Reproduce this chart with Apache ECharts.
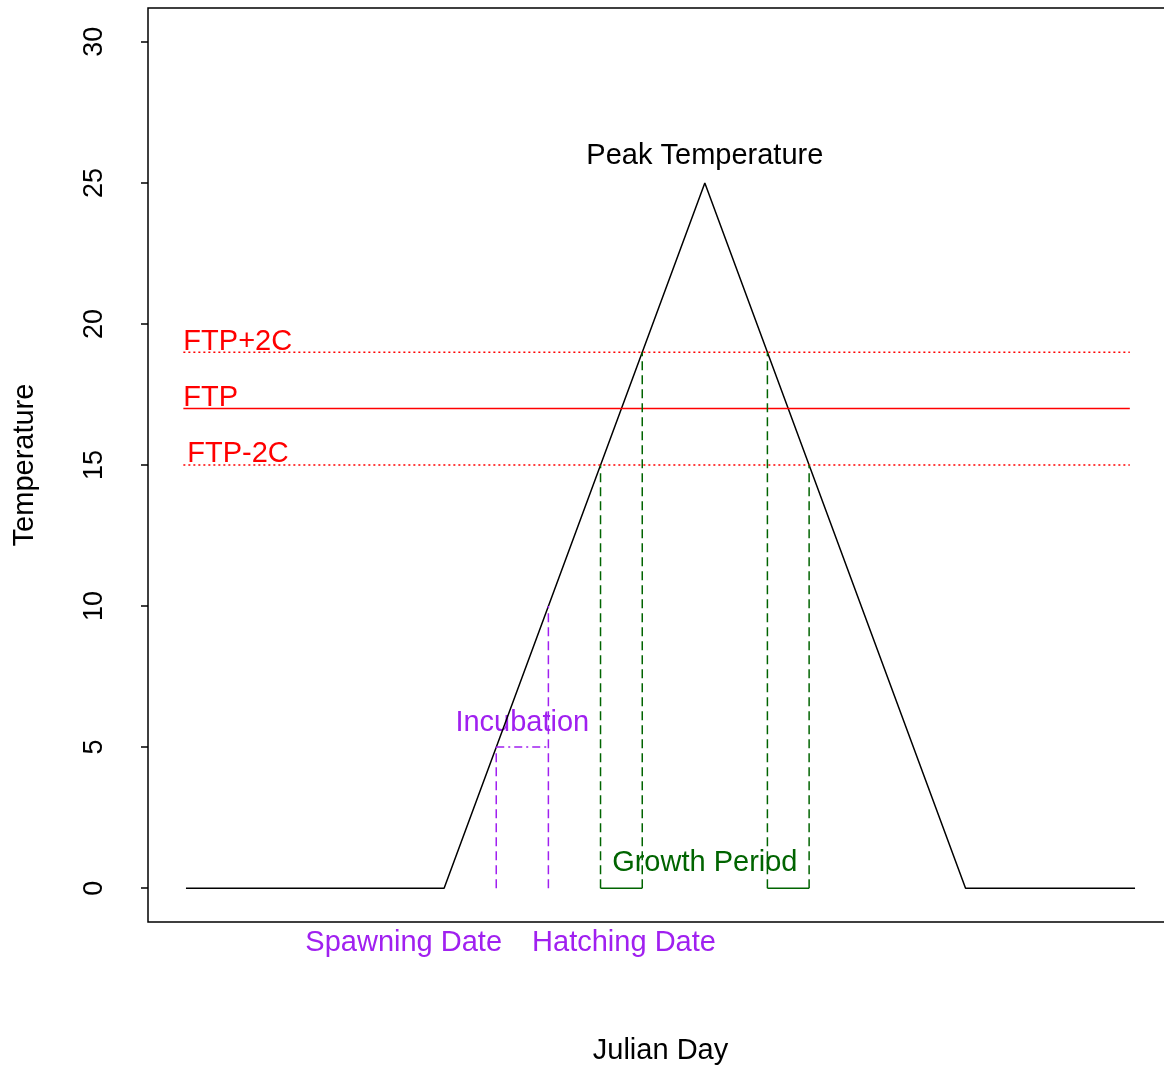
<!DOCTYPE html>
<html><head><meta charset="utf-8">
<script src="https://cdn.jsdelivr.net/npm/echarts@6/dist/echarts.min.js"></script>
<style>html,body{margin:0;padding:0;background:#fff}#c{width:1164px;height:1071px}</style>
</head><body><div id="c"></div>
<script>
// ---- data ----
var dayRange = [1, 365];
var tempCurve = [[1, 0], [100, 0], [200, 25], [300, 0], [365, 0]];
var ftpSpan = [0, 363];
var ftp = 17, ftpPlus = 19, ftpMinus = 15;
var spawnDay = 120, hatchDay = 140;
var spawnTemp = 5, hatchTemp = 10;
var growthDays = [160, 176, 224, 240];
var growthTemps = [15, 19, 19, 15];
var yTicks = [0, 5, 10, 15, 20, 25, 30];
var yRange = [0, 30];
// text annotations: [label, x(day), y(temp), colour, align]
var notes = [
  ['Peak Temperature', 200, 25.95, '#000000', 'center'],
  ['FTP+2C', 0, 19.36, '#FF0000', 'left'],
  ['FTP', 0, 17.38, '#FF0000', 'left'],
  ['FTP-2C', 1.5, 15.4, '#FF0000', 'left'],
  ['Incubation', 130, 5.85, '#A020F0', 'center'],
  ['Growth Period', 200, 0.89, '#006400', 'center'],
  ['Spawning Date', 84.5, -1.96, '#A020F0', 'center'],
  ['Hatching Date', 169, -1.96, '#A020F0', 'center']
];

var FONT = '"Liberation Sans", Arial, sans-serif';
var RED = '#FF0000', PURPLE = '#A020F0', GREEN = '#006400';
var dx = (dayRange[1] - dayRange[0]) * 0.04;
var dy = (yRange[1] - yRange[0]) * 0.04;

function seg(data, color, type, width) {
  return {type: 'line', data: data, showSymbol: false, symbol: 'none', silent: true,
    animation: false, lineStyle: {color: color, type: type, width: width || 1.5}};
}

var series = [
  seg(tempCurve, '#000', 'solid', 1.5),
  seg([[ftpSpan[0], ftp], [ftpSpan[1], ftp]], RED, 'solid', 1.5),
  seg([[ftpSpan[0], ftpPlus], [ftpSpan[1], ftpPlus]], RED, [2, 3], 1.5),
  seg([[ftpSpan[0], ftpMinus], [ftpSpan[1], ftpMinus]], RED, [2, 3], 1.5),
  seg([[spawnDay, 0], [spawnDay, spawnTemp]], PURPLE, [9, 5], 1.5),
  seg([[hatchDay, 0], [hatchDay, hatchTemp]], PURPLE, [9, 5], 1.5),
  seg([[spawnDay, spawnTemp], [hatchDay, spawnTemp]], PURPLE, [8, 4, 2, 4], 1.5)
];
growthDays.forEach(function (d, i) {
  series.push(seg([[d, 0], [d, growthTemps[i]]], GREEN, [9, 5], 1.5));
});
series.push(seg([[growthDays[0], 0], [growthDays[1], 0]], GREEN, 'solid', 1.5));
series.push(seg([[growthDays[2], 0], [growthDays[3], 0]], GREEN, 'solid', 1.5));

var chart = echarts.init(document.getElementById('c'), null, {renderer: 'canvas'});
chart.setOption({
  animation: false,
  backgroundColor: '#fff',
  grid: {left: 148, top: 8, width: 1025, height: 914, outerBoundsMode: 'none', containLabel: false,
    show: true, borderColor: '#000', borderWidth: 1.5, backgroundColor: 'transparent'},
  xAxis: {type: 'value', min: dayRange[0] - dx, max: dayRange[1] + dx,
    axisLine: {show: false, onZero: false}, axisTick: {show: false}, axisLabel: {show: false}, splitLine: {show: false},
    name: 'Julian Day', nameLocation: 'middle', nameGap: 114,
    nameTextStyle: {fontFamily: FONT, fontSize: 29, color: '#000'}},
  yAxis: {type: 'value', min: yRange[0] - dy, max: yRange[1] + dy,
    axisLine: {show: false, onZero: false}, splitLine: {show: false},
    axisTick: {show: true, length: 7, lineStyle: {color: '#000', width: 1.5}, customValues: yTicks},
    axisLabel: {show: true, rotate: 90, margin: 40, fontFamily: FONT, fontSize: 27, color: '#000', customValues: yTicks},
    name: 'Temperature', nameLocation: 'middle', nameRotate: 90, nameGap: 109,
    nameTextStyle: {fontFamily: FONT, fontSize: 29, color: '#000'}},
  series: series
});

var g = notes.map(function (n) {
  var p = chart.convertToPixel({gridIndex: 0}, [n[1], n[2]]);
  return {type: 'text', x: p[0], y: p[1], silent: true,
    style: {text: n[0], fill: n[3], font: '29px ' + FONT, align: n[4], verticalAlign: 'middle'}};
});
chart.setOption({graphic: g});
</script></body></html>
